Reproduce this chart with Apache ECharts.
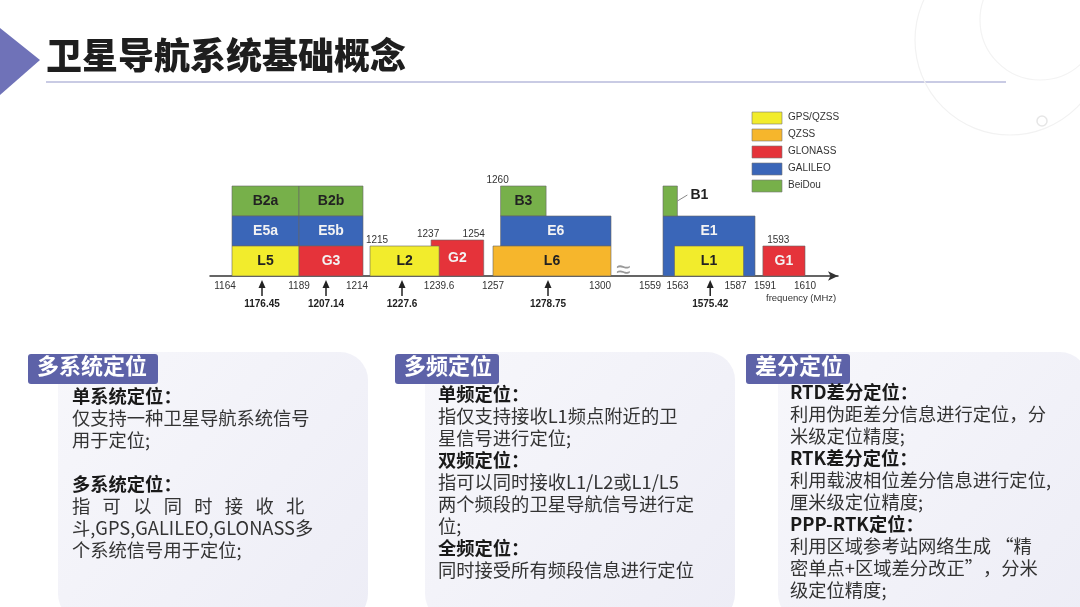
<!DOCTYPE html>
<html><head><meta charset="utf-8">
<script src="https://cdn.jsdelivr.net/npm/echarts@6/dist/echarts.min.js"></script>
<style>html,body{margin:0;padding:0;background:#fff}#c{width:1080px;height:607px}</style>
</head><body><div id="c"></div>
<script>
// ---- data ----
const bandNames  = ['B2a','B2b','E5a','E5b','L5','G3','G2','L2','B3','E6','L6','E1','B1','L1','G1'];
const bandStart  = [1164,1189,1164,1189,1164,1189,1237,1215,1260,1260,1257,1559,1559,1563,1594];
const bandEnd    = [1189,1214,1189,1214,1189,1214,1254,1239.6,1278,1300,1300,1591,1564,1587,1610];
const bandLow    = [2,2,1,1,0,0,0,0,2,1,0,0,2,0,0];
const bandHigh   = [3,3,2,2,1,1,1.2,1,3,2,1,2,3,1,1];
const bandSystem = ['BeiDou','BeiDou','GALILEO','GALILEO','GPS/QZSS','GLONASS','GLONASS','GPS/QZSS','BeiDou','GALILEO','QZSS','GALILEO','BeiDou','GPS/QZSS','GLONASS'];
const systems    = ['GPS/QZSS','QZSS','GLONASS','GALILEO','BeiDou'];
const sysColors  = ['#f2ec2c','#f6b62c','#e5333a','#3a66b8','#77b04a'];
const tickFreqs  = [1164,1189,1214,1239.6,1257,1300,1559,1563,1587,1591,1610];
const topFreqs   = [1215,1237,1254,1260,1593];
const topLevels  = [1,1.2,1.2,3,1];
const centerFreqs= [1176.45,1207.14,1227.6,1278.75,1575.42];
// schematic (non-linear, broken) frequency scale: frequency -> axis position units
const scaleFreq  = [1164,1176.45,1189,1207.14,1214,1215,1227.6,1257,1278.75,1300,1559,1591,1610];
const scalePos   = [232,262,299,326,363,370,402,493,548,611,663,755,805];

function disp(f){
  for(let i=0;i<scaleFreq.length-1;i++){
    if(f<=scaleFreq[i+1]||i===scaleFreq.length-2){
      const t=(f-scaleFreq[i])/(scaleFreq[i+1]-scaleFreq[i]);
      return scalePos[i]+t*(scalePos[i+1]-scalePos[i]);
    }
  }
}
const sysColor = s => sysColors[systems.indexOf(s)];
const blocks = bandNames.map((n,i)=>[disp(bandStart[i]),disp(bandEnd[i]),bandLow[i],bandHigh[i],n,bandSystem[i]]);
const tickDx = {1164:-7,1214:-6,1300:-11,1559:-13,1563:3,1587:-8,1591:10};
const topDx  = {1215:7,1237:-3,1254:-10,1260:-3,1593:18};

const chart = echarts.init(document.getElementById('c'));
const graphics = [];
graphics.push({type:'polygon',shape:{points:[[0,28],[40,60],[0,95]]},style:{fill:'#6f72b8'}});
graphics.push({type:'text',left:46,top:37,style:{text:'卫星导航系统基础概念',font:'900 36px "Noto Sans CJK SC"',fill:'#1e1e1e'}});
graphics.push({type:'rect',shape:{x:46,y:81,width:960,height:2},style:{fill:'#c9cbe4'}});
graphics.push({type:'circle',shape:{cx:1010,cy:40,r:95},style:{fill:'none',stroke:'#f2f2f2',lineWidth:1.2}});
graphics.push({type:'circle',shape:{cx:1040,cy:20,r:60},style:{fill:'none',stroke:'#f3f3f3',lineWidth:1.2}});
graphics.push({type:'circle',shape:{cx:1042,cy:121,r:5},style:{fill:'none',stroke:'#e6e6e6',lineWidth:1.5}});
systems.forEach((s,i)=>{
  graphics.push({type:'rect',shape:{x:752,y:112+i*17,width:30,height:12},style:{fill:sysColors[i],stroke:'#777',lineWidth:0.6}});
  graphics.push({type:'text',left:788,top:112+i*17,style:{text:s,font:'10px Arial',fill:'#333'}});
});
graphics.push({type:'text',left:766,top:293,style:{text:'frequency (MHz)',font:'9.5px Arial',fill:'#333'}});
graphics.push({type:'text',left:616,top:258,style:{text:'≈',font:'26px Arial',fill:'#999'}});
const panels = [
 {x:58,bx:28,tx:72,y0:399,title:'多系统定位',lines:[['单系统定位：',1],['仅支持一种卫星导航系统信号',0],['用于定位;',0],['',0],['多系统定位：',1],['指   可   以   同   时   接   收   北',0],['斗,GPS,GALILEO,GLONASS多',0],['个系统信号用于定位;',0]]},
 {x:425,bx:395,tx:438,y0:397,title:'多频定位',lines:[['单频定位：',1],['指仅支持接收L1频点附近的卫',0],['星信号进行定位;',0],['双频定位：',1],['指可以同时接收L1/L2或L1/L5',0],['两个频段的卫星导航信号进行定',0],['位;',0],['全频定位：',1],['同时接受所有频段信息进行定位',0]]},
 {x:778,bx:746,tx:790,y0:395,title:'差分定位',lines:[['RTD差分定位：',1],['利用伪距差分信息进行定位，分',0],['米级定位精度;',0],['RTK差分定位：',1],['利用载波相位差分信息进行定位,',0],['厘米级定位精度;',0],['PPP-RTK定位：',1],['利用区域参考站网络生成 “精',0],['密单点+区域差分改正”，分米',0],['级定位精度;',0]]}
];
panels.forEach(p=>{
  graphics.push({type:'rect',shape:{x:p.x,y:352,width:310,height:270,r:28},style:{fill:new echarts.graphic.LinearGradient(0,0,1,1,[{offset:0,color:'#f7f7fb'},{offset:1,color:'#ededf6'}])}});
  graphics.push({type:'rect',shape:{x:p.bx,y:354,width:p.title.length*26,height:30,r:3},style:{fill:'#5d62a8'}});
  graphics.push({type:'text',left:p.bx+9,top:355,style:{text:p.title,font:'bold 22px "Noto Sans CJK SC"',fill:'#fff'}});
  p.lines.forEach((l,i)=>{
    graphics.push({type:'text',left:p.tx,top:p.y0-12+i*22,style:{text:l[0],font:(l[1]?'bold ':'')+'18.3px "Noto Sans CJK SC"',fill:l[1]?'#1a1a1a':'#333'}});
  });
});

chart.setOption({
  animation:false,
  grid:{left:210,width:628,top:156,height:120},
  xAxis:{type:'value',min:210,max:838,axisLine:{show:true,lineStyle:{color:'#333',width:1.5},symbol:['none','arrow'],symbolSize:[7,10]},axisTick:{show:false},axisLabel:{show:false},splitLine:{show:false}},
  yAxis:{type:'value',min:0,max:4,show:false},
  graphic:graphics,
  series:[
   {type:'custom',data:blocks,renderItem:(params,api)=>{
      const p0=api.coord([api.value(0),api.value(2)]), p1=api.coord([api.value(1),api.value(3)]);
      const b=blocks[params.dataIndex];
      const col=sysColor(b[5]);
      const light=(b[5]==='GALILEO'||b[5]==='GLONASS');
      const ch=[{type:'rect',shape:{x:p0[0],y:p1[1],width:p1[0]-p0[0],height:p0[1]-p1[1]},style:{fill:col,stroke:'#666',lineWidth:0.6}}];
      if(b[4]==='B1'){
        ch.push({type:'line',shape:{x1:p1[0],y1:(p0[1]+p1[1])/2,x2:p1[0]+10,y2:(p0[1]+p1[1])/2-6},style:{stroke:'#888'}});
        ch.push({type:'text',x:p1[0]+13,y:(p0[1]+p1[1])/2-6,style:{text:'B1',font:'bold 14px Arial',fill:'#222',verticalAlign:'middle'}});
      } else {
        const cy=b[4]==='E1'?p1[1]+15:(p0[1]+p1[1])/2;
        ch.push({type:'text',x:(p0[0]+p1[0])/2,y:cy,style:{text:b[4],font:'bold 14px Arial',fill:light?'#f3f3f3':'#222',align:'center',verticalAlign:'middle'}});
      }
      return {type:'group',children:ch};
   },z:2},
   {type:'custom',data:tickFreqs.map(f=>[disp(f),f]),renderItem:(params,api)=>{
      const p=api.coord([api.value(0),0]); const f=tickFreqs[params.dataIndex];
      return {type:'text',x:p[0]+(tickDx[f]||0),y:p[1]+5,style:{text:String(f),font:'10px Arial',fill:'#333',align:'center'}};
   },z:3},
   {type:'custom',data:topFreqs.map((f,i)=>[disp(f),topLevels[i]]),renderItem:(params,api)=>{
      const p=api.coord([api.value(0),api.value(1)]); const f=topFreqs[params.dataIndex];
      return {type:'text',x:p[0]+(topDx[f]||0),y:p[1]-1,style:{text:String(f),font:'10px Arial',fill:'#333',align:'center',verticalAlign:'bottom'}};
   },z:3},
   {type:'custom',data:centerFreqs.map(f=>[disp(f),0]),renderItem:(params,api)=>{
      const p=api.coord([api.value(0),0]);
      return {type:'group',children:[
        {type:'line',shape:{x1:p[0],y1:p[1]+8,x2:p[0],y2:p[1]+20},style:{stroke:'#222',lineWidth:1.5}},
        {type:'polygon',shape:{points:[[p[0]-3.5,p[1]+12],[p[0]+3.5,p[1]+12],[p[0],p[1]+4]]},style:{fill:'#222'}},
        {type:'text',x:p[0],y:p[1]+23,style:{text:String(centerFreqs[params.dataIndex]),font:'bold 10px Arial',fill:'#222',align:'center'}}
      ]};
   },z:3}
  ]
});
</script></body></html>
